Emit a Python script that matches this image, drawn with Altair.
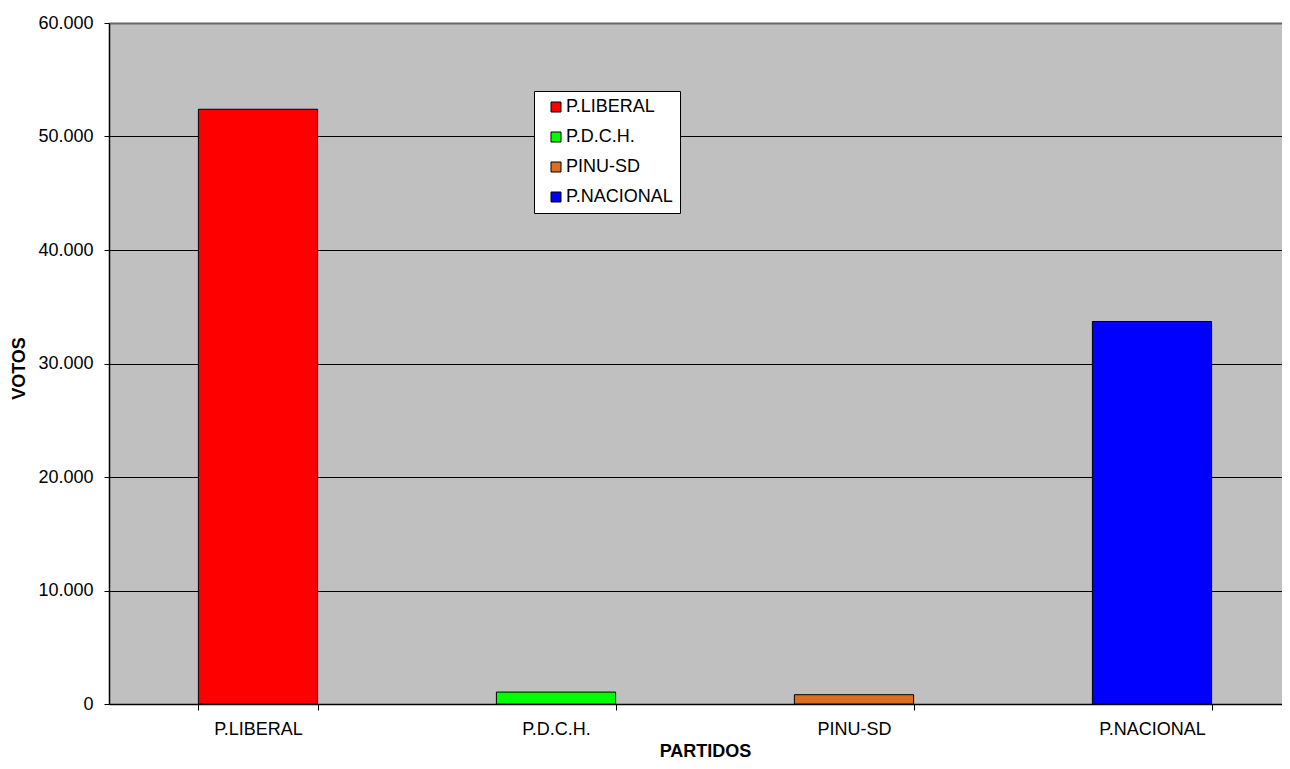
import altair as alt
import pandas as pd

partidos = ["P.LIBERAL", "P.D.C.H.", "PINU-SD", "P.NACIONAL"]
votos = [52400, 1050, 820, 33700]
colores = ["#FF0000", "#00FF00", "#DD6E1F", "#0000FF"]
y_ticks = [0, 10000, 20000, 30000, 40000, 50000, 60000]

df = pd.DataFrame({"PARTIDOS": partidos, "VOTOS": votos})

FONT = "Liberation Sans"

chart = alt.Chart(df).mark_bar(stroke="black", strokeWidth=1).encode(
    x=alt.X(
        "PARTIDOS:N",
        sort=partidos,
        scale=alt.Scale(paddingInner=0.6, paddingOuter=0.3),
        axis=alt.Axis(
            title="PARTIDOS",
            labelAngle=0,
            labelFont=FONT,
            labelFontSize=18,
            labelColor="black",
            labelPadding=10,
            tickSize=6,
            tickColor="black",
            tickBand="extent",
            domainColor="black",
            domainWidth=1.5,
            titleFont=FONT,
            titleFontSize=18,
            titleFontWeight="bold",
            titleColor="black",
            titleY=52,
            titleBaseline="alphabetic",
            grid=False,
        ),
    ),
    y=alt.Y(
        "VOTOS:Q",
        scale=alt.Scale(domain=[0, 60000], nice=False),
        axis=alt.Axis(
            title="VOTOS",
            values=y_ticks,
            labelExpr="replace(format(datum.value, ','), ',', '.')",
            labelFont=FONT,
            labelFontSize=18,
            labelColor="black",
            labelPadding=11,
            tickSize=5,
            tickColor="black",
            domainColor="black",
            domainWidth=1.5,
            grid=True,
            gridColor=alt.condition("datum.value == 60000", alt.value("#666666"), alt.value("black")),
            gridWidth=alt.condition("datum.value == 60000", alt.value(2), alt.value(1)),
            titleFont=FONT,
            titleFontSize=18,
            titleFontWeight="bold",
            titleColor="black",
            titleX=-90,
            titleY=345,
            titleAlign="center",
            titleBaseline="middle",
            titleAngle=270,
        ),
    ),
    color=alt.Color(
        "PARTIDOS:N",
        scale=alt.Scale(domain=partidos, range=colores),
        legend=alt.Legend(
            title=None,
            orient="none",
            legendX=425,
            legendY=68,
            labelFont=FONT,
            labelFontSize=18,
            labelColor="black",
            symbolType="square",
            symbolSize=100,
            symbolStrokeColor="black",
            symbolStrokeWidth=1,
            symbolOffset=6,
            labelOffset=1,
            rowPadding=12,
            padding=7,
            fillColor="white",
            strokeColor="black",
        ),
    ),
).properties(
    width=1192,
    height=681,
    autosize=alt.AutoSizeParams(type="none"),
    padding={"left": 101, "top": 15, "right": -19, "bottom": 55},
).configure(
    background="white",
).configure_view(
    fill="#C0C0C0",
    stroke=None,
)

chart.save("out.html", embed_options={"renderer": "svg", "actions": False})
